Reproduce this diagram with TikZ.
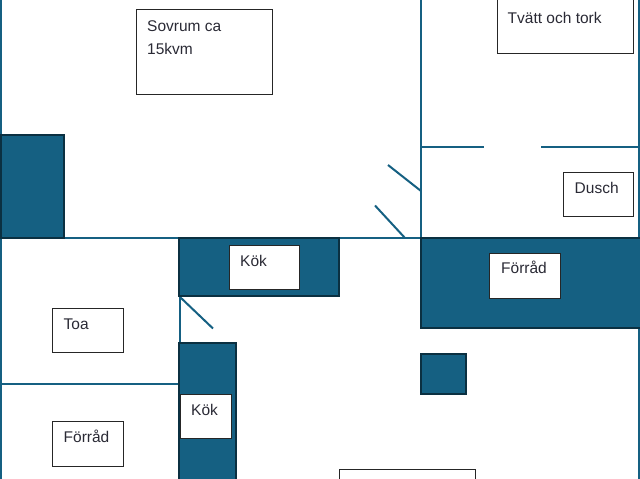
\documentclass[tikz,border=0pt]{standalone}
\usepackage{fontspec}
\setmainfont{Liberation Sans}
\definecolor{wall}{HTML}{156082}
\definecolor{edge}{HTML}{0B3041}
\definecolor{ink}{HTML}{2A2A35}
\tikzset{
  x=1pt,y=-1pt,
  wallline/.style={draw=wall,line width=2pt},
  block/.style={fill=wall,draw=edge,line width=2pt},
  labelbox/.style={fill=white,draw=black!85,line width=1.15pt},
  roomtext/.style={anchor=base west,inner sep=0pt,text=ink,font=\fontsize{15.5}{16}\selectfont},
}
\begin{document}
\begin{tikzpicture}
\useasboundingbox (0,0) rectangle (640,479);
\fill[white] (0,0) rectangle (640,479);
% walls
\draw[wallline] (1,0) -- (1,479);
\draw[wallline] (639,0) -- (639,479);
\draw[wallline] (0,238) -- (640,238);
\draw[wallline] (421,0) -- (421,238);
\draw[wallline] (421,147) -- (484,147);
\draw[wallline] (541,147) -- (640,147);
\draw[wallline] (0,384) -- (179,384);
\draw[wallline] (180,296) -- (180,343);
% door leaves
\draw[wallline] (180,297) -- (213,328.5);
\draw[wallline] (388,165) -- (421,191);
\draw[wallline] (375,205.5) -- (405,238);
% solid blocks
\draw[block] (1,135) rectangle (64,238);
\draw[block] (179,238) rectangle (339,296);
\draw[block] (179,343) rectangle (236,482);
\draw[block] (421,238) rectangle (641,328);
\draw[block] (421,354) rectangle (466,394);
% label boxes
\draw[labelbox] (136.5,9.5) rectangle (272.5,94.5);
\draw[labelbox] (497.5,-2) rectangle (633.5,53.5);
\draw[labelbox] (563.5,172.5) rectangle (633.5,216.5);
\draw[labelbox] (489.5,253.5) rectangle (560.5,298.5);
\draw[labelbox] (229.5,245.5) rectangle (299.5,289.5);
\draw[labelbox] (52.5,308.5) rectangle (123.5,352.5);
\draw[labelbox] (52.5,421.5) rectangle (123.5,466.5);
\draw[labelbox] (180.5,394.5) rectangle (231.5,438.5);
\draw[labelbox] (339.5,469.5) rectangle (475.5,482);
% texts
\node[roomtext] (t1) at (147,31) {Sovrum ca};
\node[roomtext] (t2) at (147,54.5) {15kvm};
\node[roomtext] (t3) at (507.5,23.5) {Tvätt och tork};
\node[roomtext] (t4) at (574.5,193.5) {Dusch};
\node[roomtext] (t5) at (501,273) {Förråd};
\node[roomtext] (t6) at (240,266) {Kök};
\node[roomtext] (t7) at (63.5,329) {Toa};
\node[roomtext] (t8) at (63.5,442.5) {Förråd};
\node[roomtext] (t9) at (191,415.5) {Kök};
\end{tikzpicture}
\end{document}
